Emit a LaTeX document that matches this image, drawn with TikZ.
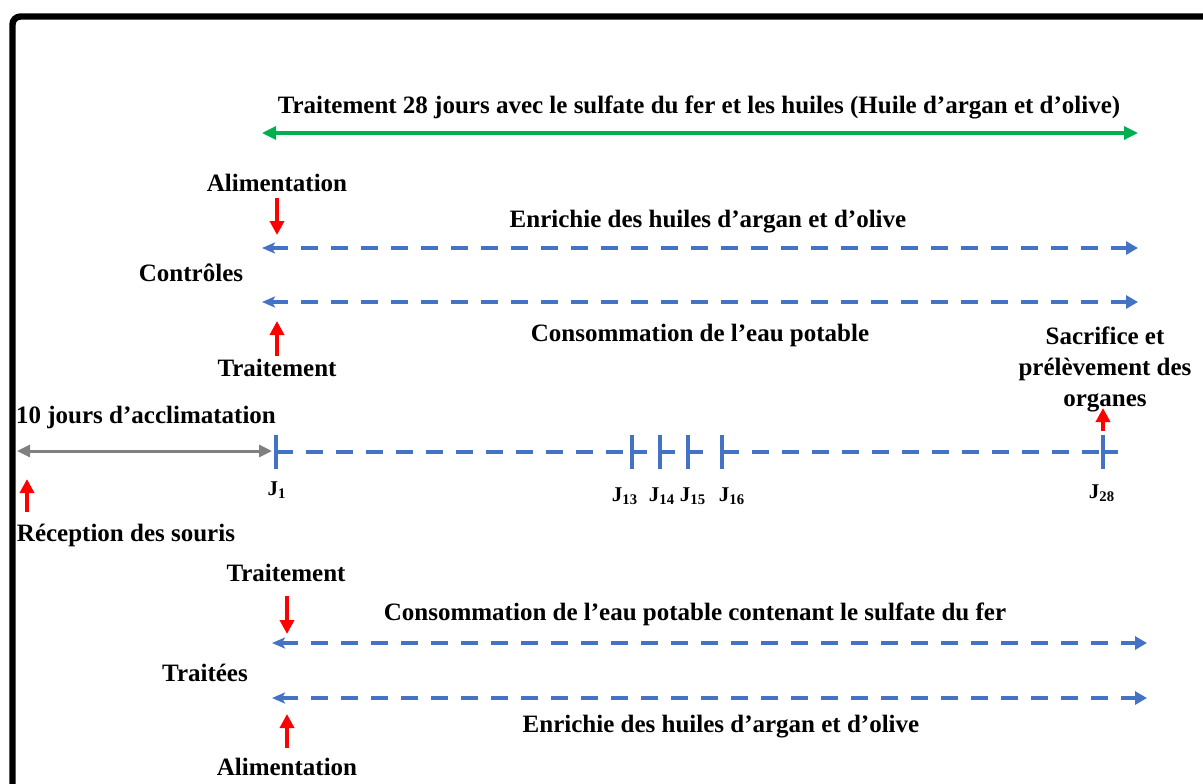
\documentclass[tikz,border=0pt]{standalone}
\usepackage{fontspec}
\setmainfont{Liberation Serif}
\usetikzlibrary{arrows.meta}
\definecolor{tgreen}{RGB}{0,176,80}
\definecolor{tblue}{RGB}{68,114,196}
\definecolor{tred}{RGB}{255,0,0}
\definecolor{tgray}{RGB}{128,128,128}
\begin{document}
\begin{tikzpicture}[x={(0.5pt,0)}, y={(0,-0.5pt)},
 lbl/.style={font=\fontsize{12.5}{15}\selectfont\bfseries, inner sep=0pt},
 jlbl/.style={font=\fontsize{10.5}{12}\selectfont\bfseries, inner sep=0pt},
 greenarr/.style={draw=tgreen, line width=1.6pt, {Triangle[length=7pt,width=6.5pt]}-{Triangle[length=7pt,width=6.5pt]}},
 grayarr/.style={draw=tgray, line width=1.5pt, {Triangle[length=6.5pt,width=6pt]}-{Triangle[length=6.5pt,width=6pt]}},
 bluedash/.style={draw=tblue, line width=2pt, dash pattern=on 8.5pt off 6.5pt, {Stealth[length=6.5pt,width=5.5pt,inset=1.5pt]}-{Triangle[length=6pt,width=6.5pt]}},
 redarr/.style={draw=tred, line width=2.2pt, -{Triangle[length=7pt,width=7pt]}},
 jtick/.style={draw=tblue, line width=2pt},
]
\useasboundingbox (0,0) rectangle (1203,783);
\clip (0,0) rectangle (1203,783);
% frame
\draw[line width=3.2pt, rounded corners=4pt] (12.5,16.5) rectangle (1260,840);

% title and green arrow
\node[lbl] (title) at (699,107) {Traitement 28 jours avec le sulfate du fer et les huiles (Huile d’argan et d’olive)};
\coordinate (g1) at (262,133); \coordinate (g2) at (1138,133);
\draw[greenarr] (g1) -- (g2);

% controls block
\node[lbl] (alim1) at (277,183) {Alimentation};
\coordinate (ra1) at (277,198); \coordinate (rb1) at (277,235);
\draw[redarr] (ra1) -- (rb1);
\node[lbl] (enr1) at (708,222) {Enrichie des huiles d’argan et d’olive};
\coordinate (b1l) at (262,248); \coordinate (b1r) at (1138,248);
\draw[bluedash] (b1l) -- (b1r);
\node[lbl] (ctrl) at (191,273) {Contrôles};
\coordinate (b2l) at (262,302); \coordinate (b2r) at (1138,302);
\draw[bluedash] (b2l) -- (b2r);
\node[lbl] (cons1) at (700,335) {Consommation de l’eau potable};
\coordinate (ra2) at (277,356); \coordinate (rb2) at (277,321);
\draw[redarr] (ra2) -- (rb2);
\node[lbl] (trt1) at (277,368) {Traitement};

% sacrifice
\node[lbl, align=center, font=\fontsize{12.5}{15.5}\selectfont\bfseries] (sacr) at (1105,369) {Sacrifice et\\prélèvement des\\organes};
\coordinate (ra3) at (1103,431); \coordinate (rb3) at (1103,408);
\draw[redarr] (ra3) -- (rb3);

% acclimatation
\node[lbl] (accl) at (146,417) {10 jours d’acclimatation};
\coordinate (gy1) at (17,451); \coordinate (gy2) at (272,451);
\draw[grayarr] (gy1) -- (gy2);
\coordinate (ra4) at (27,512); \coordinate (rb4) at (27,479);
\draw[redarr] (ra4) -- (rb4);
\node[lbl] (recep) at (126,535) {Réception des souris};

% timeline
\coordinate (J1) at (276,452);
\coordinate (J13) at (632,452);
\coordinate (J14) at (660,452);
\coordinate (J15) at (688,452);
\coordinate (J16) at (722,452);
\coordinate (J28) at (1103,452);
\draw[jtick, dash pattern=on 8.5pt off 6.5pt] (J1) -- (J13);
\draw[jtick, dash pattern=on 8.5pt off 6.5pt] (J16) -- (J28);
\foreach \j in {J1,J13,J14,J15,J16,J28}{
  \draw[jtick] ([yshift=8.5pt]\j) -- ([yshift=-8.5pt]\j);
  \draw[jtick] (\j) -- ([xshift=7.5pt]\j);
}
\node[jlbl] (lJ1) at (277,490) {J\textsubscript{1}};
\node[jlbl] (lJ13) at (625,496) {J\textsubscript{13}};
\node[jlbl] (lJ14) at (662,496) {J\textsubscript{14}};
\node[jlbl] (lJ15) at (693,496) {J\textsubscript{15}};
\node[jlbl] (lJ16) at (732,496) {J\textsubscript{16}};
\node[jlbl] (lJ28) at (1102,493) {J\textsubscript{28}};

% treated block
\node[lbl] (trt2) at (286,573) {Traitement};
\coordinate (ra5) at (287,596); \coordinate (rb5) at (287,634);
\draw[redarr] (ra5) -- (rb5);
\node[lbl] (cons2) at (695,614) {Consommation de l’eau potable contenant le sulfate du fer};
\coordinate (b3l) at (272,643); \coordinate (b3r) at (1147,643);
\draw[bluedash] (b3l) -- (b3r);
\node[lbl] (trait) at (205,673) {Traitées};
\coordinate (b4l) at (272,698); \coordinate (b4r) at (1147,698);
\draw[bluedash] (b4l) -- (b4r);
\coordinate (ra6) at (287,748); \coordinate (rb6) at (287,714);
\draw[redarr] (ra6) -- (rb6);
\node[lbl] (enr2) at (721,727) {Enrichie des huiles d’argan et d’olive};
\node[lbl] (alim2) at (287,767) {Alimentation};
\end{tikzpicture}
\end{document}
